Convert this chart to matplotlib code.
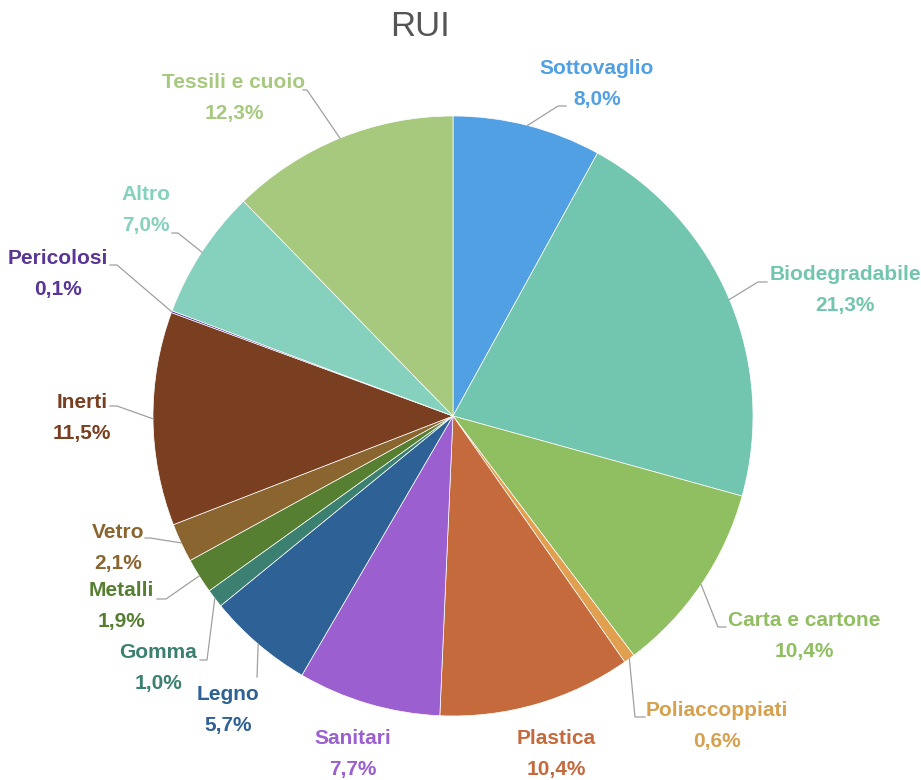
import numpy as np
import matplotlib.pyplot as plt

# data
labels = ['Sottovaglio', 'Biodegradabile', 'Carta e cartone', 'Poliaccoppiati',
          'Plastica', 'Sanitari', 'Legno', 'Gomma', 'Metalli', 'Vetro',
          'Inerti', 'Pericolosi', 'Altro', 'Tessili e cuoio']
values = [8.0, 21.3, 10.4, 0.6, 10.4, 7.7, 5.7, 1.0, 1.9, 2.1, 11.5, 0.1, 7.0, 12.3]
colors = ['#52a0e4', '#72c5ae', '#8fbf60', '#e0a050', '#c46a3c', '#9b5fcf',
          '#2e6196', '#3b8070', '#567f31', '#8a6530', '#7a3f20', '#5a3595',
          '#85d1be', '#a6c97e']
text_colors = ['#52a0e4', '#72c5ae', '#8fbf60', '#d6a04e', '#c46a3c', '#9b5fcf',
               '#2e6196', '#3b8070', '#567f31', '#8a6530', '#7a3f20', '#5a3595',
               '#85d1be', '#a6c97e']

H = 780  # pixel height, layout below is given top-down

# label name center (x, y from top)
label_pos = {
    'Sottovaglio': (597, 68), 'Biodegradabile': (845, 275),
    'Carta e cartone': (804, 620), 'Poliaccoppiati': (717, 711),
    'Plastica': (556, 738), 'Sanitari': (353, 738), 'Legno': (228, 695),
    'Gomma': (158, 653), 'Metalli': (121, 591), 'Vetro': (118, 533),
    'Inerti': (82, 403), 'Pericolosi': (58, 258), 'Altro': (146, 195),
    'Tessili e cuoio': (234, 83),
}
# leader line: elbow and end
leaders = {
    'Sottovaglio': [(558, 106), (566, 106)],
    'Biodegradabile': [(758, 282), (767, 282)],
    'Carta e cartone': [(718, 627), (726, 627)],
    'Poliaccoppiati': [(635, 717), (645, 717)],
    'Legno': [(257, 677)],
    'Gomma': [(207, 660), (200, 660)],
    'Metalli': [(166, 599), (157, 599)],
    'Vetro': [(150, 538), (145, 538)],
    'Inerti': [(117, 406), (110, 406)],
    'Pericolosi': [(117, 265), (110, 265)],
    'Altro': [(178, 233), (172, 233)],
    'Tessili e cuoio': [(307, 90), (303, 90)],
}

plt.rcParams['font.family'] = ['Liberation Sans', 'DejaVu Sans']

fig = plt.figure(figsize=(9.21, 7.8), dpi=100)
ax = fig.add_axes([0, 0, 1, 1])

cx, cy, r = 453, H - 416, 300
wedges, _ = ax.pie(values, colors=colors, startangle=90, counterclock=False,
                   center=(cx, cy), radius=r,
                   wedgeprops=dict(edgecolor='white', linewidth=0.5))

for w, lab, val, tc in zip(wedges, labels, values, text_colors):
    x, y = label_pos[lab]
    ax.text(x, H - y, lab, ha='center', va='center', fontsize=15,
            fontweight='bold', color=tc)
    ax.text(x, H - y - 31, f'{val:.1f}%'.replace('.', ','), ha='center',
            va='center', fontsize=15, fontweight='bold', color=tc)
    if lab in leaders:
        ang = np.deg2rad((w.theta1 + w.theta2) / 2)
        px = [cx + r * np.cos(ang)] + [p[0] for p in leaders[lab]]
        py = [cy + r * np.sin(ang)] + [H - p[1] for p in leaders[lab]]
        ax.plot(px, py, color='#a0a0a0', linewidth=0.9)

ax.text(420, H - 27, 'RUI', ha='center', va='center', fontsize=25, color='#555555')

ax.set_xlim(0, 921)
ax.set_ylim(0, H)
ax.set_aspect('equal')
ax.axis('off')

fig.savefig('out.png', dpi=100)
